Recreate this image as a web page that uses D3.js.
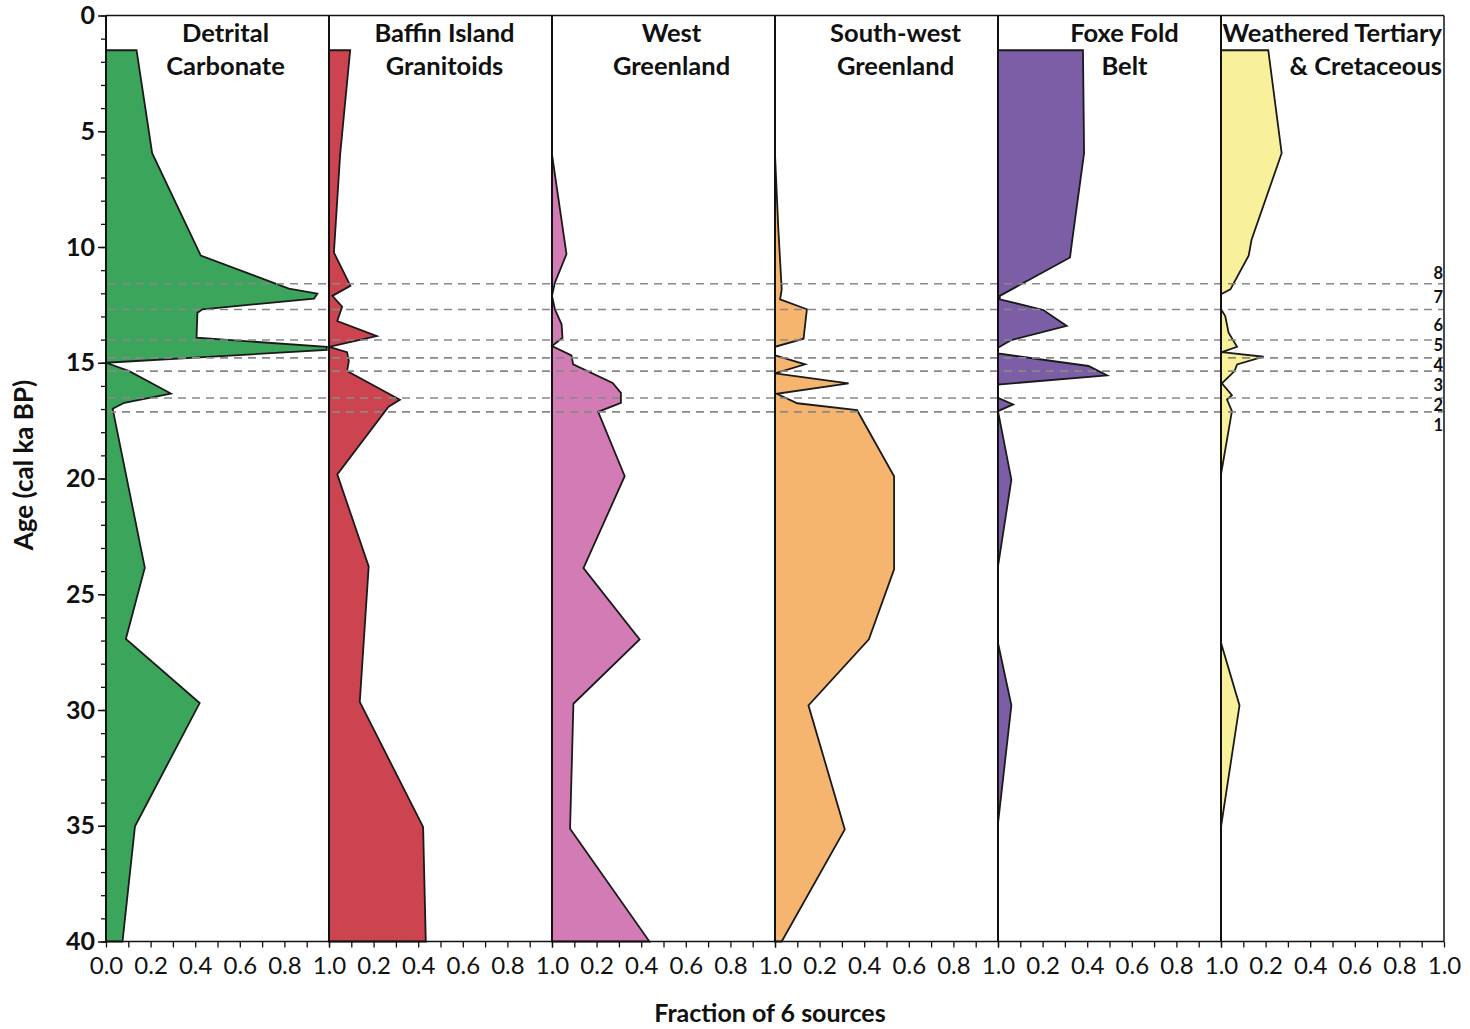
<!DOCTYPE html>
<html>
<head>
<meta charset="utf-8">
<script src="https://cdn.jsdelivr.net/npm/d3@7"></script>
<style>
  body { margin: 0; background: #fff; }
  svg { display: block; }
  text { font-family: Lato, "Open Sans", "Noto Sans", sans-serif; fill: #111; }
</style>
</head>
<body>
<svg id="chart" width="1470" height="1029"></svg>
<script>
// ---- Source panels (left to right) ----
const panelTitles = [
  ["Detrital", "Carbonate"],
  ["Baffin Island", "Granitoids"],
  ["West", "Greenland"],
  ["South-west", "Greenland"],
  ["Foxe Fold", "Belt"],
  ["Weathered Tertiary", "& Cretaceous"]
];
const panelColors = ["#3ca55c", "#cc4450", "#d37bb4", "#f6b56e", "#7b5ea6", "#f8f09b"];

// ---- Fraction of each source vs. age (cal ka BP) ----
const detritalAge  = [1.5, 5.95, 10.37, 11.8, 12.01, 12.23, 12.69, 12.84, 13.92, 14.31, 14.45, 15.0, 15.36, 16.33, 16.73, 16.99, 23.85, 26.93, 29.7, 35.02, 40];
const detritalFrac = [0.137, 0.207, 0.425, 0.82, 0.948, 0.933, 0.433, 0.41, 0.406, 0.99, 0.99, 0.0, 0.104, 0.291, 0.082, 0.03, 0.174, 0.089, 0.42, 0.13, 0.074];

const baffinAge  = [1.5, 6.0, 10.24, 11.68, 12.11, 12.58, 13.2, 13.85, 14.31, 14.54, 14.93, 15.36, 16.6, 16.9, 19.82, 23.8, 29.65, 35.05, 40];
const baffinFrac = [0.095, 0.05, 0.022, 0.096, 0.015, 0.059, 0.037, 0.214, 0.0, 0.081, 0.089, 0.081, 0.318, 0.267, 0.037, 0.178, 0.138, 0.422, 0.434];

const westGrAge  = [6.0, 10.31, 11.54, 12.11, 12.69, 13.34, 13.92, 14.28, 14.68, 15.07, 15.87, 16.3, 16.73, 17.12, 19.9, 23.87, 26.95, 29.73, 35.13, 40];
const westGrFrac = [0.0, 0.065, 0.013, 0.0, 0.013, 0.043, 0.047, 0.0, 0.087, 0.095, 0.272, 0.309, 0.309, 0.207, 0.326, 0.141, 0.393, 0.096, 0.081, 0.437];

const swGrAge  = [6.0, 9.23, 11.83, 12.26, 12.69, 13.96, 14.31, 14.68, 15.07, 15.46, 15.89, 16.34, 16.75, 17.05, 19.9, 23.92, 26.95, 29.8, 35.16, 40];
const swGrFrac = [0.0, 0.015, 0.03, 0.023, 0.143, 0.128, 0.0, 0.0, 0.135, 0.0, 0.33, 0.008, 0.1, 0.368, 0.534, 0.534, 0.421, 0.15, 0.313, 0.03];

const foxeAge  = [1.5, 5.95, 9.69, 10.45, 12.11, 12.26, 12.72, 13.41, 14.02, 14.35, 14.6, 15.14, 15.55, 15.94, 16.52, 16.8, 17.09, 20.05, 23.8, 27.1, 29.8, 34.9, 40];
const foxeFrac = [0.381, 0.386, 0.333, 0.323, 0.008, 0.008, 0.203, 0.308, 0.06, 0.0, 0.0, 0.406, 0.489, 0.0, 0.0, 0.068, 0.0, 0.06, 0.0, 0.0, 0.06, 0.0, 0.0];

const weatheredAge  = [1.5, 5.95, 9.69, 10.38, 11.83, 12.04, 12.69, 12.98, 13.7, 14.31, 14.54, 14.74, 15.07, 15.36, 15.89, 16.4, 16.59, 17.09, 19.82, 27.1, 29.8, 35.05, 40];
const weatheredFrac = [0.212, 0.272, 0.137, 0.124, 0.042, 0.0, 0.0, 0.019, 0.034, 0.072, 0.004, 0.191, 0.072, 0.061, 0.004, 0.049, 0.027, 0.049, 0.0, 0.0, 0.083, 0.0, 0.0];

const seriesAges  = [detritalAge, baffinAge, westGrAge, swGrAge, foxeAge, weatheredAge];
const seriesFracs = [detritalFrac, baffinFrac, westGrFrac, swGrFrac, foxeFrac, weatheredFrac];

// ---- Zone boundaries (cal ka BP) and zone numbers ----
const zoneBounds = [11.59, 12.70, 14.02, 14.79, 15.36, 16.52, 17.12];
const zoneLabels = ["8", "7", "6", "5", "4", "3", "2", "1"];

// ---- Axis ticks ----
const ageMajorTicks = [0, 5, 10, 15, 20, 25, 30, 35, 40];
const ageMinorTicks = d3.range(0, 41, 1);
const fracTicks = d3.range(0, 1.0001, 0.1).map(v => +v.toFixed(1));

// ---- Layout ----
const svg = d3.select("#chart");
const plotLeft = 106, plotRight = 1444, plotTop = 15.5, plotBottom = 941.5;
const nPanels = panelTitles.length;
const panelW = (plotRight - plotLeft) / nPanels;
const titleOffsets = [8, 4, 8, 9, 15, 0];
const fontStack = "Lato, 'Open Sans', sans-serif";

const y = d3.scaleLinear().domain([0, 40]).range([plotTop, plotBottom]);
const xScales = d3.range(nPanels).map(i =>
  d3.scaleLinear().domain([0, 1]).range([plotLeft + i * panelW, plotLeft + (i + 1) * panelW]));

// ---- Filled source profiles ----
seriesAges.forEach((ages, i) => {
  const x = xScales[i];
  const pts = ages.map((a, k) => ({ age: a, v: seriesFracs[i][k] }));
  const area = d3.area()
    .y(d => y(d.age))
    .x0(() => x(0))
    .x1(d => x(d.v));
  svg.append("path")
    .datum(pts)
    .attr("d", area)
    .attr("fill", panelColors[i])
    .attr("stroke", "#1a1a1a")
    .attr("stroke-width", 1.8)
    .attr("stroke-linejoin", "miter");
});

// ---- Zone boundary lines ----
svg.append("g").selectAll("line")
  .data(zoneBounds)
  .join("line")
  .attr("x1", plotLeft + 2).attr("x2", plotRight - 1)
  .attr("y1", d => y(d)).attr("y2", d => y(d))
  .attr("stroke", "#888")
  .attr("stroke-width", 1.6)
  .attr("stroke-dasharray", "8,6");

// Zone numbers sit midway between boundaries, nudged apart where zones are thin
const zoneCenters = zoneLabels.map((_, k) => {
  if (k === 0) return y(zoneBounds[0] - 0.46);
  if (k === zoneLabels.length - 1) return y(zoneBounds[zoneBounds.length - 1] + 0.46);
  return y((zoneBounds[k - 1] + zoneBounds[k]) / 2);
});
const zoneFont = 16.5;
const minGap = zoneFont * 1.21;
for (let iter = 0; iter < 30; iter++) {
  for (let k = 1; k < zoneCenters.length; k++) {
    const gap = zoneCenters[k] - zoneCenters[k - 1];
    if (gap < minGap) {
      const push = (minGap - gap) / 2;
      zoneCenters[k - 1] -= push;
      zoneCenters[k] += push;
    }
  }
}
svg.append("g").selectAll("text")
  .data(zoneLabels)
  .join("text")
  .attr("x", plotRight - 1)
  .attr("y", (d, k) => zoneCenters[k])
  .attr("dy", "0.36em")
  .attr("text-anchor", "end")
  .attr("font-size", zoneFont)
  .attr("font-weight", 700)
  .text(d => d);

// ---- Frame: panel dividers, top and bottom lines ----
const frame = svg.append("g").attr("stroke", "#111");
d3.range(nPanels + 1).forEach(i => {
  const xx = plotLeft + i * panelW;
  frame.append("line")
    .attr("x1", xx).attr("x2", xx)
    .attr("y1", plotTop).attr("y2", plotBottom)
    .attr("stroke-width", i === nPanels ? 1.5 : 2);
});
frame.append("line").attr("x1", plotLeft).attr("x2", plotRight)
  .attr("y1", plotTop).attr("y2", plotTop).attr("stroke-width", 1.5);
frame.append("line").attr("x1", plotLeft).attr("x2", plotRight)
  .attr("y1", plotBottom).attr("y2", plotBottom).attr("stroke-width", 1.5);

// ---- Age axis ----
const yMinor = svg.append("g").attr("transform", `translate(${plotLeft},0)`)
  .call(d3.axisLeft(y).tickValues(ageMinorTicks).tickSize(5).tickFormat(""));
yMinor.select(".domain").remove();
yMinor.selectAll("line").attr("stroke", "#111").attr("stroke-width", 1.3);

const yMajor = svg.append("g").attr("transform", `translate(${plotLeft},0)`)
  .call(d3.axisLeft(y).tickValues(ageMajorTicks).tickSize(8).tickPadding(3).tickFormat(d3.format("d")));
yMajor.select(".domain").remove();
yMajor.selectAll("line").attr("stroke", "#111").attr("stroke-width", 1.5);
yMajor.selectAll("text")
  .attr("font-size", 25).attr("font-weight", 700).attr("fill", "#111")
  .style("font-family", fontStack);

// ---- Fraction axes, one per panel ----
xScales.forEach((x, i) => {
  const g = svg.append("g").attr("transform", `translate(0,${plotBottom})`)
    .call(d3.axisBottom(x).tickValues(fracTicks).tickSize(6).tickPadding(9)
      .tickFormat((d, k) => (k % 2 === 0 && (i === 0 || k > 0)) ? d3.format(".1f")(d) : ""));
  g.select(".domain").remove();
  g.selectAll("line").attr("stroke", "#111").attr("stroke-width", 1.3);
  g.selectAll("text")
    .attr("font-size", 24).attr("fill", "#111")
    .style("font-family", fontStack);
});

// ---- Panel titles ----
panelTitles.forEach((lines, i) => {
  const last = i === nPanels - 1;
  const cx = last ? plotRight - 2 : (xScales[i](0) + xScales[i](1)) / 2 + titleOffsets[i];
  lines.forEach((t, k) => {
    svg.append("text")
      .attr("x", cx)
      .attr("y", 42 + k * 33)
      .attr("text-anchor", last ? "end" : "middle")
      .attr("font-size", 25.5)
      .attr("font-weight", 700)
      .text(t);
  });
});

// ---- Axis titles ----
svg.append("text")
  .attr("transform", `translate(33,465) rotate(-90)`)
  .attr("text-anchor", "middle")
  .attr("font-size", 26)
  .attr("font-weight", 700)
  .text("Age (cal ka BP)");

svg.append("text")
  .attr("x", 770).attr("y", 1022)
  .attr("text-anchor", "middle")
  .attr("font-size", 25)
  .attr("font-weight", 700)
  .text("Fraction of 6 sources");
</script>
</body>
</html>
